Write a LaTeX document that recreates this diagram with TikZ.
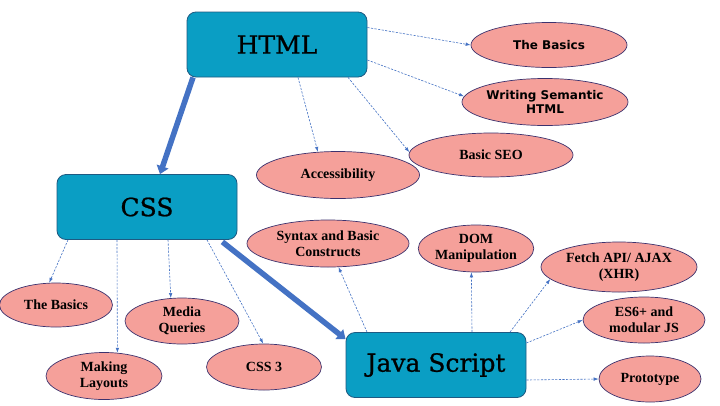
\documentclass[tikz,border=0pt]{standalone}
\usepackage{fontspec}
\usetikzlibrary{shapes.geometric,arrows.meta}
\newfontfamily\boxfont[FakeBold=0.8]{DejaVu Serif}
\newfontfamily\ovalfont{Liberation Serif}
\newfontfamily\sansbold{DejaVu Sans}
\definecolor{boxfill}{RGB}{10,158,196}
\definecolor{boxline}{RGB}{30,90,130}
\definecolor{ovalfill}{RGB}{245,160,154}
\definecolor{ovalline}{RGB}{60,50,110}
\definecolor{linkblue}{RGB}{68,114,196}
\definecolor{thickline}{RGB}{68,114,196}
\tikzset{
  topic/.style={draw=boxline, line width=0.8pt, fill=boxfill, rounded corners=9pt,
    minimum width=180pt, minimum height=65pt, inner sep=0pt,
    font=\boxfont\fontsize{25}{28}\selectfont},
  oval/.style={draw=ovalline, line width=0.7pt, fill=ovalfill, ellipse, inner sep=0pt,
    align=center, font=\ovalfont\bfseries\fontsize{14}{16}\selectfont},
  sansoval/.style={oval, font=\sansbold\bfseries\fontsize{12}{14}\selectfont},
  link/.style={draw=linkblue, line width=0.6pt, dash pattern=on 2.2pt off 1.4pt,
    -{Latex[length=5pt,width=3.5pt]}},
  bigarrow/.style={draw=thickline, line width=5.5pt,
    -{Triangle[length=8pt,width=12pt]}, shorten >=0pt}
}
\begin{document}
\begin{tikzpicture}[x=1pt,y=-1pt]
\useasboundingbox (0,0) rectangle (720,405);
\fill[white] (0,0) rectangle (720,405);

% main boxes
\node[topic] (html) at (277,44.5) {HTML};
\node[topic] (css) at (147,207) {CSS};
\node[topic] (js) at (436,365) {Java Script};

% HTML topics
\node[sansoval, minimum width=156pt, minimum height=45pt] (hbasics) at (549,45) {The Basics};
\node[sansoval, minimum width=166pt, minimum height=47pt] (writing) at (545,102) {Writing Semantic\\HTML};
\node[oval, minimum width=164pt, minimum height=44pt] (seo) at (491,155) {Basic SEO};
\node[oval, minimum width=163pt, minimum height=47pt] (acc) at (338,175) {Accessibility};

% CSS topics
\node[oval, minimum width=113pt, minimum height=44pt] (cbasics) at (56,305) {The Basics};
\node[oval, minimum width=116pt, minimum height=47pt] (layouts) at (104,376) {Making\\Layouts};
\node[oval, minimum width=114pt, minimum height=46pt] (media) at (182,321) {Media\\Queries};
\node[oval, minimum width=115pt, minimum height=46pt] (css3) at (264,367) {CSS 3};

% JS topics
\node[oval, minimum width=162pt, minimum height=47pt] (syntax) at (328,243.5) {Syntax and Basic\\Constructs};
\node[oval, minimum width=114pt, minimum height=47pt] (dom) at (476,248.5) {DOM\\Manipulation};
\node[oval, minimum width=156pt, minimum height=50pt] (fetch) at (619,267) {Fetch API/ AJAX\\(XHR)};
\node[oval, minimum width=122pt, minimum height=46pt] (es6) at (644,320) {ES6+ and\\modular JS};
\node[oval, minimum width=102pt, minimum height=46pt] (proto) at (650,379) {Prototype};

% thick arrows
\draw[bigarrow] ([xshift=-84pt]html.south) -- ([xshift=13pt]css.north);
\draw[bigarrow] ([xshift=-15pt,yshift=-2pt]css.south east) -- ([yshift=-7pt]js.north west);

% HTML links
\draw[link] ([yshift=17pt]html.east) -- (hbasics.west);
\draw[link] ([yshift=-15.5pt]html.east) -- (writing.176);
\draw[link] ([xshift=21pt]html.south) -- (acc.131);
\draw[link] ([xshift=71pt]html.south) -- (seo.178);

% CSS links
\draw[link] ([xshift=-79pt]css.south) -- (cbasics.107);
\draw[link] ([xshift=-30pt]css.south) -- (layouts.60);
\draw[link] ([xshift=21pt]css.south) -- (media.116);
\draw[link] ([xshift=60pt]css.south) -- (css3.92);

% JS links
\draw[link] ([xshift=-69pt]js.north) -- (syntax.-66);
\draw[link] ([xshift=36pt]js.north) -- (dom.-101);
\draw[link] ([xshift=74pt]js.north) -- (fetch.190);
\draw[link] ([yshift=22pt]js.east) -- (es6.west);
\draw[link] ([yshift=-15pt]js.east) -- (proto.west);
\end{tikzpicture}
\end{document}
